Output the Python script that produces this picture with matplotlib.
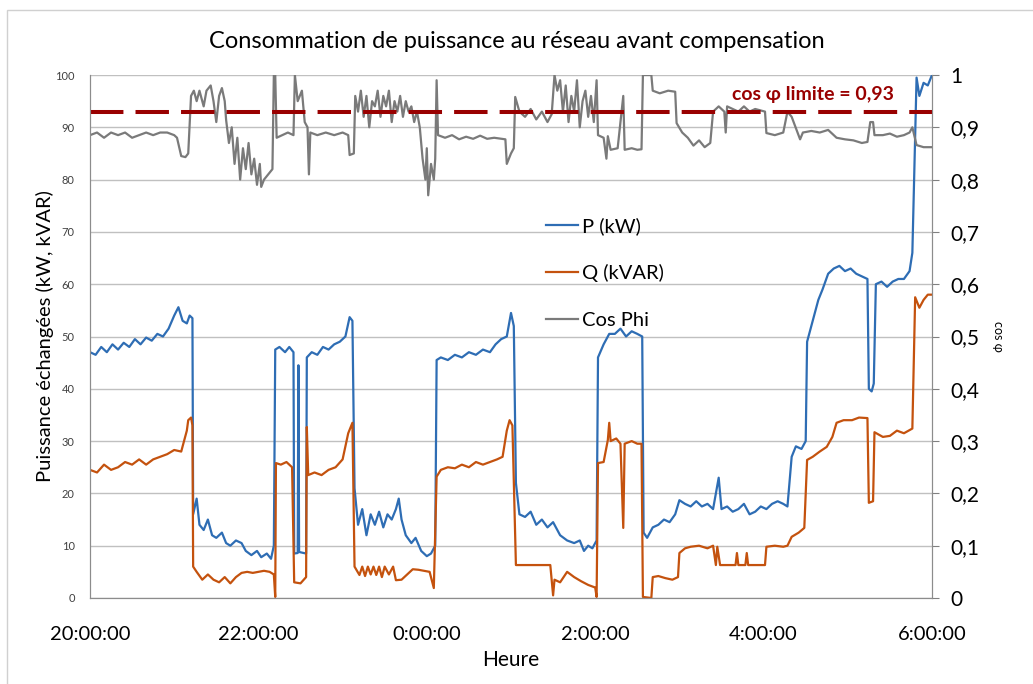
import matplotlib
matplotlib.use('Agg')
import matplotlib.pyplot as plt
import matplotlib.patches as mpatches
import numpy as np

plt.rcParams['font.family'] = ['Lato', 'DejaVu Sans']

# time in minutes after 20:00
p_t = [0, 4, 8, 12, 16, 20, 24, 28, 32, 36, 40, 44, 48, 52, 56, 60, 63, 66, 69, 71, 73,
       73.5, 76, 78, 81, 84, 87, 90, 94, 97, 100, 104, 108, 111, 115, 119, 122, 126, 129, 131,
       132, 135, 139, 142, 145, 145.5, 148, 148.5, 149, 154, 154.5, 158, 162, 166, 170, 174, 178,
       182, 185, 187, 188.5, 191, 194, 197, 200, 203, 206, 209, 212, 215, 218, 220, 222, 225, 229,
       232, 236, 240, 243, 246, 247, 250, 255, 260, 265, 270, 275, 280, 285, 289, 293, 297, 300,
       302, 303.5, 306, 310, 314, 318, 322, 326, 330, 335, 340, 345, 349, 352, 355, 358, 361, 362,
       366, 370, 374, 378, 382, 386, 390, 393.5, 394.5, 397, 401, 405, 409, 413, 417, 420, 424,
       428, 432, 436, 440, 444, 448, 450, 454, 458, 462, 466, 470, 474, 478, 482, 486, 490, 494,
       497, 500, 503, 507, 510, 511, 515, 519, 522, 526, 530, 534, 538, 542, 546, 550, 554, 555,
       557, 558.5, 560, 564, 568, 572, 576, 580, 584, 586, 588, 589, 591, 594, 597, 600]
p_kw = [47, 46.5, 48, 47, 48.5, 47.5, 48.8, 48, 49.5, 48.5, 49.8, 49.2, 50.5, 50, 51.5, 54, 55.6, 53, 52.5, 54, 53.5,
        16, 19, 14, 13, 15, 12, 11.5, 12.5, 10.5, 10, 11, 10.5, 9, 8.2, 9, 7.8, 8.5, 7.5, 10,
        47.5, 48, 47, 48, 47, 8.5, 8.6, 44.5, 8.8, 8.5, 46, 47, 46.5, 48, 47.5, 48.5, 49,
        50, 53.7, 53, 21, 14, 17, 12, 16, 14, 16.5, 13.5, 16, 15, 17, 19, 15, 12, 10.5,
        11.5, 9, 8, 8.5, 10, 45.5, 46, 45.5, 46.5, 46, 47, 46.5, 47.5, 47, 48.5, 49.5, 50, 54.5,
        52, 22, 16, 15.5, 16.5, 14, 15, 13.5, 14.5, 12, 11, 10.5, 11, 9, 10, 9.5, 11, 46,
        48.5, 50.5, 50.5, 51.5, 50, 51, 50.5, 50, 12.5, 11.5, 13.5, 14, 15, 14.5, 16, 18.7, 18,
        17.5, 18.5, 17.5, 18, 17, 23, 17, 17.5, 16.5, 17, 18, 16, 16.5, 17.5, 17, 18, 18.5, 18,
        17.5, 27, 29, 28.5, 30, 49, 53, 57, 59, 62, 63, 63.5, 62.5, 63, 62, 61.5, 61, 40,
        39.5, 41, 60, 60.5, 59.5, 60.5, 61, 61, 62.5, 66, 88, 99.5, 96, 98.5, 98, 100]

q_t = [0, 5, 10, 15, 20, 25, 30, 35, 40, 45, 50, 55, 60, 65, 69, 70, 72, 73,
       73.5, 76, 80, 84, 88, 92, 96, 100, 104, 108, 112, 116, 120, 124, 128, 131, 132,
       132.5, 136, 140, 144, 145.5, 150, 154, 154.5, 155.5, 160, 165, 170, 175, 180, 184, 187,
       188.5, 192, 194, 196, 198, 200, 202, 204, 206, 208, 210, 213, 216, 218, 222, 226, 230,
       234, 238, 242, 245, 247, 250, 255, 260, 265, 270, 275, 280, 285, 290, 294, 297, 299, 301,
       303.5, 310, 320, 328, 330, 331, 335, 340, 345, 350, 355, 360, 361, 362, 366, 369, 370, 371,
       375, 378, 380, 381, 386, 390, 393, 394, 400, 401, 405, 410, 415, 419, 420, 424, 428, 434,
       440, 444, 446, 447, 449, 455, 460, 461, 462, 467, 468, 469, 475, 481, 482, 488, 494, 497,
       500, 505, 509, 511, 515, 520, 525, 529, 532, 537, 543, 548, 554, 555, 558, 559, 565, 570,
       575, 580, 586, 588, 591, 594, 597, 600]
q_kvar = [24.5, 24, 25.5, 24.5, 25, 26, 25.5, 26.5, 25.5, 26.5, 27, 27.5, 28.3, 28, 32, 34, 34.5, 33,
          6, 5, 3.5, 4.5, 3.5, 3, 4, 2.8, 4, 4.8, 5, 4.8, 5, 5.2, 5, 4.5, 0.2,
          25.8, 25.5, 26, 25, 3, 2.8, 4, 32.7, 23.5, 24, 23.5, 24.5, 25, 26.5, 31.5, 33.5,
          6, 4.4, 6, 4.2, 6, 4.5, 6, 4.4, 6, 4, 6, 4.5, 6, 3.4, 3.5, 4.5, 5.5,
          5.4, 5.2, 5, 1.9, 23.2, 24.5, 25, 24.8, 25.5, 25, 26, 25.5, 26, 26.5, 27, 32, 34, 33,
          6.3, 6.3, 6.3, 6.3, 0.5, 3.5, 3, 5, 4, 3.2, 2.5, 2, 0.2, 25.8, 26, 30.2, 33.5, 30,
          30.5, 29.5, 13.4, 29.5, 30, 29.5, 29.5, 0.2, 0, 4, 4.2, 3.8, 3.5, 4, 8.6, 9.5, 9.8, 10,
          9.5, 10, 6.3, 9.8, 6.3, 6.3, 6.3, 8.6, 6.3, 6.3, 8.6, 6.3, 6.3, 6.3, 9.8, 10, 9.8, 10,
          11.7, 12.5, 13.4, 26.4, 27, 28, 28.9, 30.8, 33.5, 34, 34, 34.5, 34.4, 18.2, 18.5, 31.7, 30.8, 31,
          32, 31.5, 32.4, 57.5, 55.5, 57, 58, 58]

c_t = [0, 5, 10, 15, 20, 25, 30, 35, 40, 45, 50, 55, 60, 62, 65, 68, 70, 72, 74, 76, 78, 81, 83,
       86, 88, 90, 92, 94, 96, 97, 99, 101, 103, 105, 107, 109, 111, 113, 115, 117, 119, 121, 122,
       124, 130, 131, 132, 133, 137, 141, 145, 146, 148, 151, 153, 155, 156, 157, 162, 168, 174,
       180, 184, 185, 188, 189, 191, 193, 195, 197, 199, 201, 203, 205, 207, 209, 211, 213, 215,
       217, 219, 221, 223, 225, 227, 229, 231, 233, 235, 237, 239, 240, 241, 243, 245, 246, 247,
       248, 253, 258, 263, 268, 273, 278, 283, 288, 296, 297, 300, 302, 303, 306, 310, 314, 318,
       322, 326, 329, 331, 333, 335, 337, 339, 341, 343, 345, 347, 349, 351, 353, 355, 357, 359,
       361, 362, 366, 368, 369, 371, 376, 380, 381, 386, 390, 393, 394, 400, 401, 406, 412, 417,
       418, 422, 426, 430, 434, 438, 442, 444, 448, 452, 453, 454, 458, 462, 466, 470, 474, 481,
       482, 488, 494, 497, 500, 506, 508, 514, 520, 526, 532, 538, 544, 550, 554, 556, 558, 559,
       565, 570, 575, 580, 584, 586, 589, 594, 600]
cos_phi = [0.885, 0.89, 0.88, 0.89, 0.885, 0.89, 0.88, 0.885, 0.89, 0.885, 0.89, 0.89, 0.885, 0.88, 0.845,
           0.843, 0.85, 0.96, 0.97, 0.95, 0.97, 0.94, 0.97, 0.98, 0.95, 0.91, 0.96, 0.975, 0.95, 0.914,
           0.87, 0.90, 0.83, 0.88, 0.80, 0.86, 0.82, 0.87, 0.81, 0.84, 0.79, 0.83, 0.786, 0.80, 0.82,
           1.0, 1.0, 0.88, 0.885, 0.89, 0.885, 1.0, 0.95, 0.97, 0.91, 0.90, 0.81, 0.89, 0.885, 0.89,
           0.885, 0.89, 0.885, 0.847, 0.85, 0.96, 0.93, 0.97, 0.92, 0.96, 0.90, 0.95, 0.94, 0.97, 0.92,
           0.96, 0.94, 0.97, 0.91, 0.95, 0.93, 0.96, 0.92, 0.95, 0.93, 0.94, 0.91, 0.93, 0.90, 0.84,
           0.80, 0.86, 0.77, 0.83, 0.80, 0.84, 0.99, 0.885, 0.88, 0.885, 0.877, 0.882, 0.878, 0.884,
           0.878, 0.88, 0.877, 0.83, 0.85, 0.86, 0.958, 0.93, 0.92, 0.935, 0.915, 0.93, 0.91, 0.925,
           1.0, 0.97, 0.99, 0.93, 0.98, 0.91, 0.96, 0.93, 0.99, 0.90, 0.95, 0.97, 0.92, 0.96, 0.91,
           0.99, 0.885, 0.88, 0.84, 0.883, 0.857, 0.86, 0.96, 0.857, 0.86, 0.857, 0.858, 1.0, 1.0,
           0.97, 0.965, 0.97, 0.968, 0.908, 0.89, 0.88, 0.865, 0.875, 0.862, 0.87, 0.93, 0.94, 0.93,
           0.89, 0.94, 0.935, 0.93, 0.94, 0.93, 0.935, 0.93, 0.889, 0.885, 0.89, 0.93, 0.92, 0.877,
           0.89, 0.893, 0.89, 0.895, 0.88, 0.877, 0.875, 0.87, 0.872, 0.91, 0.91, 0.885, 0.885, 0.888,
           0.882, 0.885, 0.89, 0.90, 0.866, 0.862, 0.862]

cos_limit = 0.93
tick_min = [0, 120, 240, 360, 480, 600]
tick_labels = ['20:00:00', '22:00:00', '0:00:00', '2:00:00', '4:00:00', '6:00:00']

fig = plt.figure(figsize=(10.33, 6.84), dpi=100)
ax = fig.add_axes([90/1033, 1 - 598/684, (932-90)/1033, (598-75)/684])
ax2 = ax.twinx()

lp, = ax.plot(p_t, p_kw, color='#2e6db4', lw=1.6, label='P (kW)')
lq, = ax.plot(q_t, q_kvar, color='#c4520e', lw=1.6, label='Q (kVAR)')
lc, = ax2.plot(c_t, cos_phi, color='#7a7a7a', lw=1.6, label='Cos Phi')
ax2.axhline(cos_limit, color='#990000', lw=2.9, dashes=(8.3, 3))
ax2.text(515, 0.962, 'cos φ limite = 0,93', color='#990000', fontsize=14,
         fontweight='bold', ha='center', va='center')

ax.set_xlim(0, 600)
ax.set_ylim(0, 100)
ax2.set_ylim(0, 1)
ax.set_xticks(tick_min)
ax.set_xticklabels(tick_labels, fontsize=14.5)
ax.set_yticks(np.arange(0, 101, 10))
ax.tick_params(axis='y', labelsize=8, colors='#404040', length=0, pad=11)
ax.tick_params(axis='x', length=0, pad=20)
ax2.set_yticks(np.arange(0, 1.01, 0.1))
ax2.set_yticklabels(['0'] + ['0,%d' % i for i in range(1, 10)] + ['1'], fontsize=15)
ax2.tick_params(axis='y', length=5, color='#808080', pad=8)
ax.grid(axis='y', color='#c0c0c0', lw=1)
for a in (ax, ax2):
    a.spines['top'].set_visible(False)
    for s in ('left', 'bottom', 'right'):
        a.spines[s].set_color('#8c8c8c')
ax.set_zorder(1)
ax2.set_zorder(2)
ax.patch.set_visible(False)

ax.set_ylabel('Puissance échangées (kW, kVAR)', fontsize=14.5, labelpad=1)
ax2.set_ylabel('cos φ', fontsize=9, rotation=270, labelpad=18)
ax.set_xlabel('Heure', fontsize=15, labelpad=5)
fig.text(0.5, 1 - 42/684, 'Consommation de puissance au réseau avant compensation',
         ha='center', va='center', fontsize=17)

fig.legend(handles=[lp, lq, lc], loc='upper left', bbox_to_anchor=(528/1033, 1 - 199/684),
           frameon=False, fontsize=14.5, handlelength=1.6, handletextpad=0.2, labelspacing=1.45)

fig.add_artist(mpatches.Rectangle((7/1033, -0.05), 1.2, 1 - 10/684 + 0.05, transform=fig.transFigure,
                                  fill=False, edgecolor='#d0d0d0', lw=1))

fig.savefig('out.png', dpi=100)
